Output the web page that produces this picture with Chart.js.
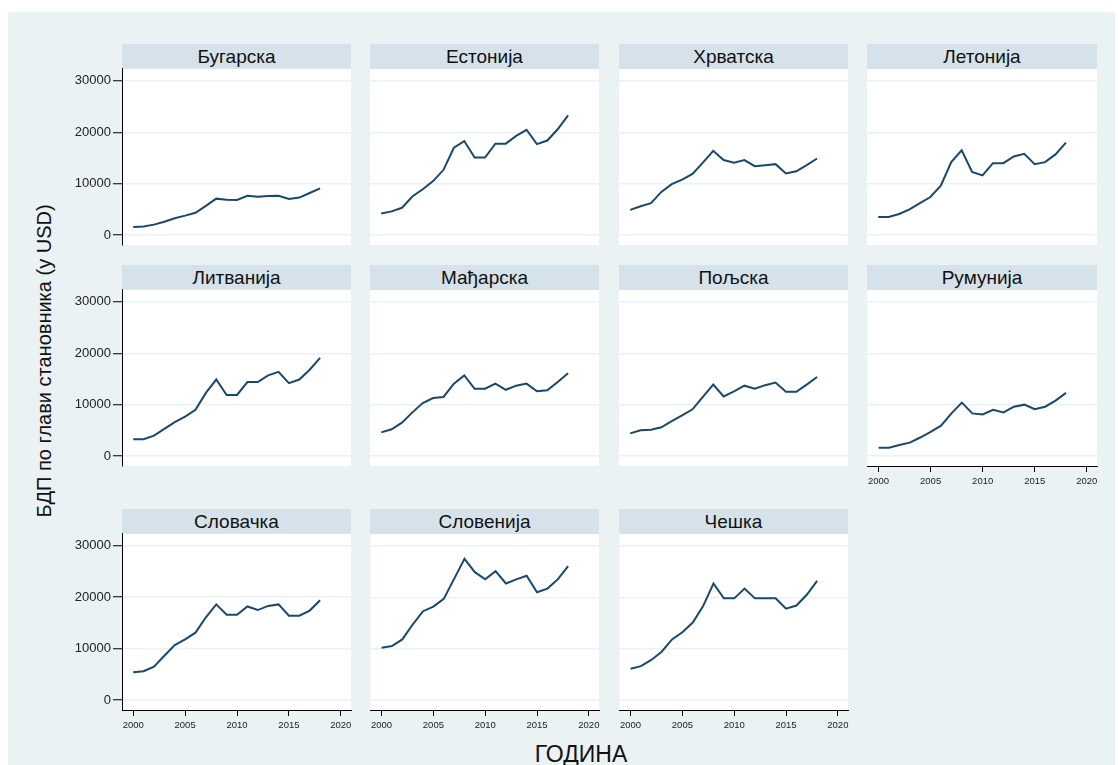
<!DOCTYPE html>
<html><head><meta charset="utf-8">
<script src="https://cdn.jsdelivr.net/npm/chart.js@4"></script>
<style>
body{margin:0;background:#fff;width:1118px;height:765px;overflow:hidden;position:relative;font-family:'Liberation Sans',Arial,sans-serif;}
#frame{position:absolute;left:8px;top:12px;width:1107px;height:753px;background:#EAF2F3;}
.ttl{position:absolute;background:#D6E2E9;color:#111;font-size:19px;text-align:center;line-height:25px;height:25px;}
canvas{position:absolute;}
#ytitle{position:absolute;left:44px;top:361px;transform:translate(-50%,-50%) rotate(-90deg);white-space:nowrap;font-size:20px;color:#111;}
#xtitle{position:absolute;left:581px;top:754px;transform:translate(-50%,-50%);font-size:23px;color:#111;white-space:nowrap;}
</style></head><body>
<div id="frame"></div>
<div id="ytitle">БДП по глави становника (у USD)</div>
<div id="xtitle">ГОДИНА</div>
<script>
const years = [2000,2001,2002,2003,2004,2005,2006,2007,2008,2009,2010,2011,2012,2013,2014,2015,2016,2017,2018];
const countries = ['Бугарска','Естонија','Хрватска','Летонија','Литванија','Мађарска','Пољска','Румунија','Словачка','Словенија','Чешка'];
const bugarska  = [1600,1700,2050,2600,3300,3800,4350,5700,7100,6900,6850,7650,7450,7600,7650,7050,7300,8200,9100];
const estonija  = [4200,4600,5300,7500,8900,10500,12700,17000,18300,15100,15100,17800,17800,19300,20500,17700,18400,20600,23300];
const hrvatska  = [4900,5600,6200,8400,9900,10800,11900,14100,16400,14600,14100,14600,13400,13600,13800,12000,12400,13600,14900];
const letonija  = [3500,3500,4100,5000,6200,7400,9600,14200,16500,12300,11600,14000,14000,15300,15800,13800,14200,15700,18000];
const litvanija = [3300,3300,4000,5300,6600,7700,9000,12300,14900,11900,11900,14400,14400,15700,16400,14200,14900,16800,19100];
const madjarska = [4600,5200,6500,8500,10300,11300,11500,14100,15700,13100,13100,14100,12900,13700,14100,12600,12800,14400,16100];
const poljska   = [4400,5000,5100,5600,6800,7900,9100,11500,13900,11600,12600,13700,13100,13800,14300,12500,12500,13900,15400];
const rumunija  = [1600,1600,2150,2600,3600,4700,5900,8300,10400,8300,8100,9000,8500,9600,10000,9100,9600,10800,12300];
const slovacka  = [5400,5600,6500,8600,10700,11800,13100,16100,18600,16600,16600,18200,17500,18300,18600,16400,16400,17400,19400];
const slovenija = [10200,10500,11800,14700,17300,18200,19700,23600,27500,24900,23500,25100,22700,23500,24200,21000,21700,23500,26100];
const ceska     = [6100,6600,7800,9400,11800,13200,15100,18300,22700,19800,19800,21700,19800,19800,19800,17800,18400,20500,23200];
const series = [bugarska,estonija,hrvatska,letonija,litvanija,madjarska,poljska,rumunija,slovacka,slovenija,ceska];
const yTicks = [0,10000,20000,30000];
const xTicks = [2000,2005,2010,2015,2020];

const FAM = "'Liberation Sans', Arial, sans-serif";
const colLeft = [122,370,619,867];
const colW = [229,229,229,230];
const rowTop = [69,290,534];
const plotH = 176;

const plotBg = {id:'plotBg', beforeDraw(c){const a=c.chartArea,ctx=c.ctx;ctx.save();ctx.fillStyle='#fff';ctx.fillRect(a.left,a.top,a.right-a.left,a.bottom-a.top);ctx.restore();}};

function makeCfg(vals, hasX, hasY, yW, xH, rp){
  return {
    type:'line',
    data:{datasets:[{data:years.map((y,k)=>({x:y,y:vals[k]})),borderColor:'#1A476F',borderWidth:2,pointRadius:0,tension:0,fill:false}]},
    plugins:[plotBg],
    options:{
      responsive:false, maintainAspectRatio:false, animation:false, devicePixelRatio:1,
      layout:{autoPadding:false,padding:{left:0,top:0,bottom:0,right:rp}},
      plugins:{legend:{display:false},tooltip:{enabled:false},title:{display:false}},
      scales:{
        x:{type:'linear',min:1998.92,max:2020.98,display:hasX,
           afterBuildTicks:s=>{s.ticks=xTicks.map(v=>({value:v}));},
           afterFit:s=>{s.height=xH;},
           grid:{drawOnChartArea:false,color:'#000',tickColor:'#000',tickLength:6,lineWidth:1},
           border:{display:true,color:'#000',width:1},
           ticks:{font:{size:9.5,family:FAM},color:'#222',padding:4,maxRotation:0,autoSkip:false,callback:v=>String(v)}},
        y:{type:'linear',min:-1950,max:32340,display:true,
           afterBuildTicks:s=>{s.ticks=yTicks.map(v=>({value:v}));},
           afterFit:s=>{s.width=yW;},
           grid:{color:'#EAF2F3',lineWidth:1.5,drawTicks:hasY,tickColor:'#000',tickLength:9,tickWidth:1},
           border:{display:hasY,color:'#000',width:1},
           ticks:{display:hasY,font:{size:13,family:FAM},color:'#222',padding:2,callback:v=>String(v)}}
      }
    }
  };
}

series.forEach((vals,i)=>{
  const row=Math.floor(i/4), col=i%4;
  const hasX = row===2 || i===7;
  const hasY = col===0;
  const yW = hasY?60:0, xH = hasX?30:0, rp = hasX?12:0;
  const pl=colLeft[col], pw=colW[col], pt=rowTop[row];
  const t=document.createElement('div');
  t.className='ttl'; t.textContent=countries[i];
  t.style.left=pl+'px'; t.style.top=(pt-25)+'px'; t.style.width=pw+'px';
  document.body.appendChild(t);
  const cv=document.createElement('canvas');
  document.body.appendChild(cv);
  let W=yW+pw+rp, H=plotH+xH, chart=null;
  for(let it=0;it<4;it++){
    cv.width=W; cv.height=H; cv.style.width=W+'px'; cv.style.height=H+'px';
    chart=new Chart(cv,makeCfg(vals,hasX,hasY,yW,xH,rp));
    const a=chart.chartArea;
    const dw=pw-(a.right-a.left), dh=plotH-(a.bottom-a.top);
    if(Math.abs(dw)<0.5 && Math.abs(dh)<0.5) break;
    chart.destroy();
    W=Math.round(W+dw); H=Math.round(H+dh);
  }
  const a=chart.chartArea;
  cv.style.left=(pl-a.left)+'px'; cv.style.top=(pt-a.top)+'px';
});
</script>
</body></html>
